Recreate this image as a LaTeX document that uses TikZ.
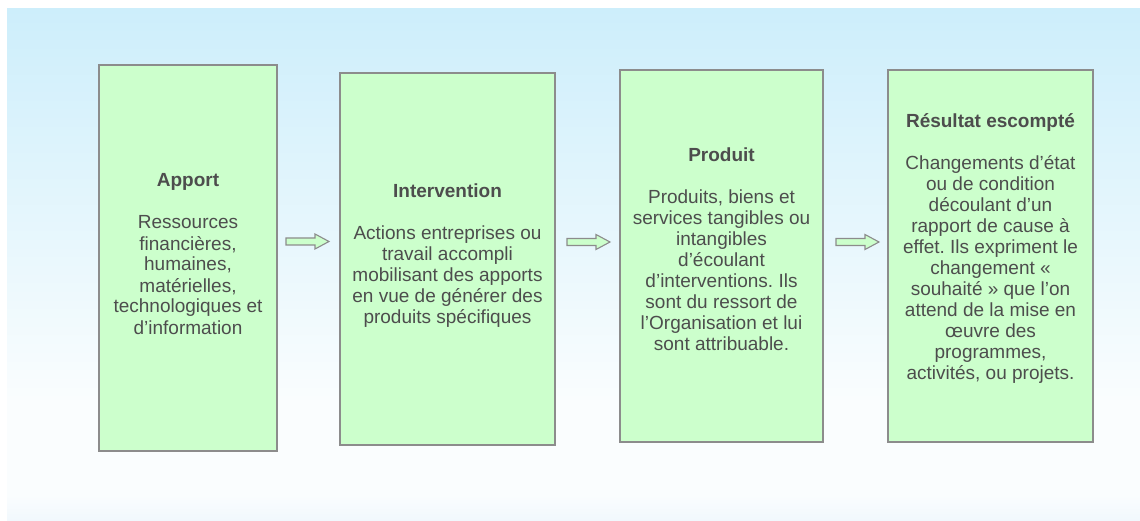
\documentclass[tikz,border=0pt]{standalone}
\usepackage{fontspec}
\setmainfont{Liberation Sans}
\usetikzlibrary{calc}
\frenchspacing

\definecolor{boxfill}{HTML}{CCFFCC}
\definecolor{boxline}{HTML}{8C8C8C}
\definecolor{ink}{HTML}{4D4D4D}
\definecolor{bgtop}{HTML}{CDEEFB}
\definecolor{bgwhite}{HTML}{FAFDFE}
\definecolor{bgbottom}{HTML}{F1F8FD}

% backdrop: light blue at the top, fading to white, faint blue again at the foot
\pgfdeclareverticalshading{backdrop}{100bp}{color(0bp)=(bgbottom); color(25bp)=(bgbottom);
  color(27.5bp)=(bgwhite); color(36.8bp)=(bgwhite); color(75bp)=(bgtop); color(100bp)=(bgtop)}

\newcommand\stagetitle[1]{\textbf{\rule{0pt}{14.5pt}#1}}

\begin{document}
\begin{tikzpicture}[x=1pt,y=-1pt,
  stage/.style={draw=boxline, line width=1.2pt, fill=boxfill, inner sep=0pt},
  stagetext/.style={text=ink, align=center, inner sep=0pt, anchor=north,
    font=\fontsize{19}{21}\selectfont},
  flow/.style={draw=boxline, line width=1.1pt, fill=boxfill, line join=miter},
  pics/flowarrow/.style={code={
    \draw[flow] (0,-3.5) -- (29,-3.5) -- (29,-7.5) -- (43,0) -- (29,7.5)
      -- (29,3.5) -- (0,3.5) -- cycle;}}]

\useasboundingbox (0,0) rectangle (1140,521);
\shade[shading=backdrop] (7,9) rectangle (1140,521);

% the four stages
\node[stage, minimum width=178pt, minimum height=386pt] (b1) at (188,258) {};
\node[stage, minimum width=215pt, minimum height=372pt] (b2) at (447.5,259) {};
\node[stage, minimum width=203pt, minimum height=372pt] (b3) at (721.5,256) {};
\node[stage, minimum width=205pt, minimum height=372pt] (b4) at (990.5,256) {};

\node[stagetext] (t1) at (b1.center |- 0,172.3) {\stagetitle{Apport}\\[21pt]
  Ressources\\ financières,\\ humaines,\\ matérielles,\\ technologiques et\\ d’information};
\node[stagetext] (t2) at (b2.center |- 0,183) {\stagetitle{Intervention}\\[21pt]
  Actions entreprises ou\\ travail accompli\\ mobilisant des apports\\ en vue de générer des\\ produits spécifiques};
\node[stagetext] (t3) at (b3.center |- 0,146.3) {\stagetitle{Produit}\\[21pt]
  Produits, biens et\\ services tangibles ou\\ intangibles\\ d’écoulant\\ d’interventions. Ils\\
  sont du ressort de\\ l’Organisation et lui\\ sont attribuable.};
\node[stagetext] (t4) at (b4.center |- 0,112.3) {\stagetitle{Résultat escompté}\\[21pt]
  Changements d’état\\ ou de condition\\ découlant d’un\\ rapport de cause à\\ effet. Ils expriment le\\
  changement «\\ souhaité » que l’on\\ attend de la mise en\\ œuvre des\\ programmes,\\ activités, ou projets.};

% block arrows between the stages
\coordinate (a1) at (286,241.5);
\coordinate (a2) at (567,242);
\coordinate (a3) at (836,242);
\pic at (a1) {flowarrow};
\pic at (a2) {flowarrow};
\pic at (a3) {flowarrow};
\end{tikzpicture}
\end{document}
